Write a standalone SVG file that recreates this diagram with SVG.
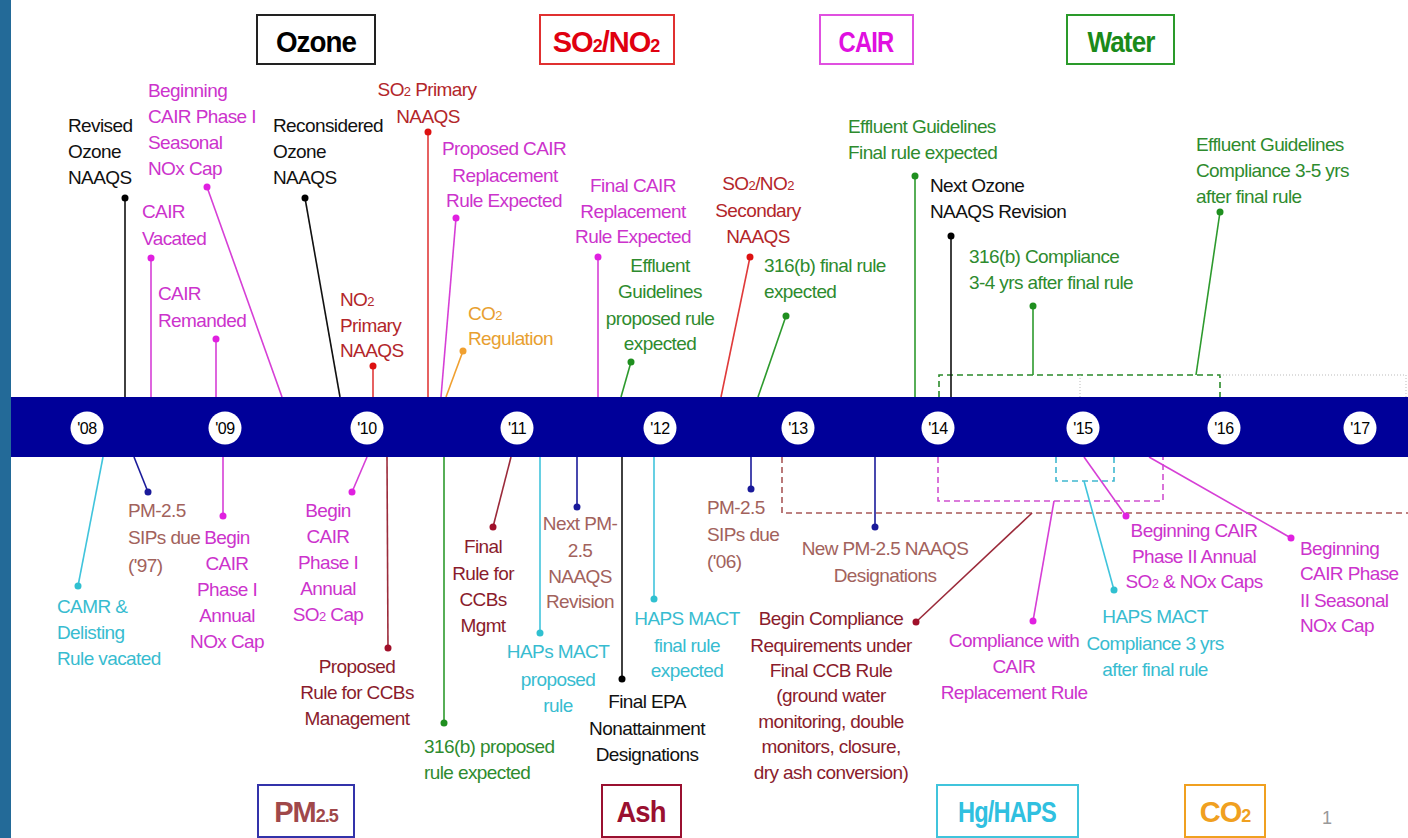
<svg xmlns="http://www.w3.org/2000/svg" width="1408" height="838" viewBox="0 0 1408 838">
<style>
text{font-family:"Liberation Sans",Arial,sans-serif}
.t{font-size:19px;letter-spacing:-0.6px}
.m{text-anchor:middle}
.s{font-size:13px}
.blk{fill:#111}.mag{fill:#cc33cc}.red{fill:#b3262a}.grn{fill:#2e8b2e}.org{fill:#e8a030}.cyn{fill:#38bcd0}.pm{fill:#a2625c}.ash{fill:#8a1c2c}
.yr{font-size:16px;letter-spacing:-0.5px;text-anchor:middle;fill:#000}
.ttl{font-size:29px;font-weight:bold;text-anchor:middle;letter-spacing:-1px}
.ttl .s{font-size:18px}
.box{fill:#fff;stroke-width:2}
line{stroke-width:1.6}
.cb{stroke:#111}.cm{stroke:#d63fd6}.cr{stroke:#e03a3a}.cg{stroke:#2d9a2d}.co{stroke:#f0a030}.cc{stroke:#40c4dc}.cn{stroke:#1a1a9a}.ca{stroke:#9b2a3a}
.db{fill:#000}.dm{fill:#e020e0}.dr{fill:#dd1111}.dg{fill:#1f8f1f}.do{fill:#f0a030}.dc{fill:#30c0d0}.dn{fill:#1a1a9a}.da{fill:#a0102a}
.dash{fill:none;stroke-width:1.6;stroke-dasharray:6 4}
.dot{fill:none;stroke:#bbb;stroke-width:1;stroke-dasharray:1 2}
</style>
<rect x="0" y="0" width="1408" height="838" fill="#fff"/>
<rect x="0" y="0" width="11" height="838" fill="#236a98"/>

<g id="legend">
<g id="box-ozone"><rect class="box" x="257" y="15" width="118" height="49" stroke="#222"/><text class="ttl" x="316" y="52" fill="#000" textLength="80" lengthAdjust="spacingAndGlyphs">Ozone</text></g>
<g id="box-so2no2"><rect class="box" x="540" y="15" width="134" height="49" stroke="#e03030"/><text class="ttl" x="606" y="52" fill="#e00010">SO<tspan class="s">2</tspan>/NO<tspan class="s">2</tspan></text></g>
<g id="box-cair"><rect class="box" x="820" y="15" width="93" height="49" stroke="#e050e0"/><text class="ttl" x="866" y="52" fill="#e010e0" textLength="55" lengthAdjust="spacingAndGlyphs">CAIR</text></g>
<g id="box-water"><rect class="box" x="1067" y="15" width="107" height="49" stroke="#2a9a2a"/><text class="ttl" x="1121" y="52" fill="#1a8a1a" textLength="67" lengthAdjust="spacingAndGlyphs">Water</text></g>
<g id="box-pm25"><rect class="box" x="258" y="785" width="96" height="52" stroke="#3333aa"/><text class="ttl" x="306" y="822" fill="#a0484a">PM<tspan class="s">2.5</tspan></text></g>
<g id="box-ash"><rect class="box" x="602" y="785" width="79" height="52" stroke="#9a1030"/><text class="ttl" x="641" y="822" fill="#9a1030" textLength="49" lengthAdjust="spacingAndGlyphs">Ash</text></g>
<g id="box-hg"><rect class="box" x="937" y="785" width="141" height="52" stroke="#40c4dc"/><text class="ttl" x="1007" y="822" fill="#30c0e0" textLength="98" lengthAdjust="spacingAndGlyphs">Hg/HAPS</text></g>
<g id="box-co2"><rect class="box" x="1185" y="785" width="80" height="52" stroke="#f0a020"/><text class="ttl" x="1225" y="822" fill="#f0a020">CO<tspan class="s">2</tspan></text></g>
<text x="1327" y="824" font-size="18" fill="#999" text-anchor="middle">1</text>
</g>

<g id="brackets">
<path class="dash" stroke="#2a8a2a" d="M939,397V375H1220V397"/>
<path class="dot" d="M1220,375H1406V397M1080,375V397"/>
<path class="dash" stroke="#a85858" d="M782,457V513H1408"/>
<path class="dash" stroke="#d050d0" d="M938,457V501H1163V457"/>
<path class="dash" stroke="#40b8d0" d="M1056,457V481H1114V457"/>
</g>

<g id="connectors">
<line class="cb" x1="125" y1="198" x2="125" y2="397"/><circle class="db" cx="125" cy="198" r="3.5"/>
<line class="cm" x1="207" y1="187" x2="282" y2="397"/><circle class="dm" cx="207" cy="187" r="3.5"/>
<line class="cm" x1="151" y1="258" x2="151" y2="397"/><circle class="dm" cx="151" cy="258" r="3.5"/>
<line class="cm" x1="216" y1="339" x2="216" y2="397"/><circle class="dm" cx="216" cy="339" r="3.5"/>
<line class="cb" x1="305" y1="198" x2="340" y2="397"/><circle class="db" cx="305" cy="198" r="3.5"/>
<line class="cr" x1="373" y1="366" x2="373" y2="397"/><circle class="dr" cx="373" cy="366" r="3.5"/>
<line class="cr" x1="428" y1="132" x2="428" y2="397"/><circle class="dr" cx="428" cy="132" r="3.5"/>
<line class="cm" x1="456" y1="218" x2="441" y2="397"/><circle class="dm" cx="456" cy="218" r="3.5"/>
<line class="co" x1="463" y1="351" x2="446" y2="397"/><circle class="do" cx="463" cy="351" r="3.5"/>
<line class="cm" x1="598" y1="257" x2="598" y2="397"/><circle class="dm" cx="598" cy="257" r="3.5"/>
<line class="cg" x1="631" y1="362" x2="621" y2="397"/><circle class="dg" cx="631" cy="362" r="3.5"/>
<line class="cr" x1="750" y1="257" x2="721" y2="397"/><circle class="dr" cx="750" cy="257" r="3.5"/>
<line class="cg" x1="786" y1="316" x2="758" y2="397"/><circle class="dg" cx="786" cy="316" r="3.5"/>
<line class="cg" x1="915" y1="176" x2="915" y2="397"/><circle class="dg" cx="915" cy="176" r="3.5"/>
<line class="cb" x1="951" y1="236" x2="951" y2="397"/><circle class="db" cx="951" cy="236" r="3.5"/>
<line class="cg" x1="1033" y1="306" x2="1033" y2="375"/><circle class="dg" cx="1033" cy="306" r="3.5"/>
<line class="cg" x1="1220" y1="212" x2="1196" y2="375"/><circle class="dg" cx="1220" cy="212" r="3.5"/>
<line class="cc" x1="78" y1="586" x2="103" y2="457"/><circle class="dc" cx="78" cy="586" r="3.5"/>
<line class="cn" x1="148" y1="492" x2="134" y2="457"/><circle class="dn" cx="148" cy="492" r="3.5"/>
<line class="cm" x1="223" y1="516" x2="223" y2="457"/><circle class="dm" cx="223" cy="516" r="3.5"/>
<line class="cm" x1="352" y1="492" x2="367" y2="457"/><circle class="dm" cx="352" cy="492" r="3.5"/>
<line class="ca" x1="388" y1="648" x2="387" y2="457"/><circle class="da" cx="388" cy="648" r="3.5"/>
<line class="cg" x1="444" y1="723" x2="444" y2="457"/><circle class="dg" cx="444" cy="723" r="3.5"/>
<line class="ca" x1="493" y1="527" x2="511" y2="457"/><circle class="da" cx="493" cy="527" r="3.5"/>
<line class="cc" x1="540" y1="633" x2="540" y2="457"/><circle class="dc" cx="540" cy="633" r="3.5"/>
<line class="cn" x1="577" y1="507" x2="577" y2="457"/><circle class="dn" cx="577" cy="507" r="3.5"/>
<line class="cb" x1="622" y1="679" x2="622" y2="457"/><circle class="db" cx="622" cy="679" r="3.5"/>
<line class="cc" x1="654" y1="599" x2="654" y2="457"/><circle class="dc" cx="654" cy="599" r="3.5"/>
<line class="cn" x1="751" y1="489" x2="751" y2="457"/><circle class="dn" cx="751" cy="489" r="3.5"/>
<line class="cn" x1="875" y1="527" x2="875" y2="457"/><circle class="dn" cx="875" cy="527" r="3.5"/>
<line class="ca" x1="916" y1="622" x2="1032" y2="513"/><circle class="da" cx="916" cy="622" r="3.5"/>
<line class="cm" x1="1033" y1="621" x2="1054" y2="501"/><circle class="dm" cx="1033" cy="621" r="3.5"/>
<line class="cc" x1="1114" y1="590" x2="1084" y2="481"/><circle class="dc" cx="1114" cy="590" r="3.5"/>
<line class="cm" x1="1126" y1="516" x2="1084" y2="457"/><circle class="dm" cx="1126" cy="516" r="3.5"/>
<line class="cm" x1="1291" y1="538" x2="1149" y2="457"/><circle class="dm" cx="1291" cy="538" r="3.5"/>
</g>

<g id="timeline">
<rect x="11" y="397" width="1397" height="60" fill="#000099"/>
<g fill="#fff">
<circle cx="87" cy="428" r="16.5"/><circle cx="225" cy="428" r="16.5"/><circle cx="367" cy="428" r="16.5"/><circle cx="517" cy="428" r="16.5"/><circle cx="660" cy="428" r="16.5"/><circle cx="798" cy="428" r="16.5"/><circle cx="938" cy="428" r="16.5"/><circle cx="1083" cy="428" r="16.5"/><circle cx="1224" cy="428" r="16.5"/><circle cx="1360" cy="428" r="16.5"/>
</g>
<text class="yr" x="87" y="434">'08</text><text class="yr" x="225" y="434">'09</text><text class="yr" x="367" y="434">'10</text><text class="yr" x="517" y="434">'11</text><text class="yr" x="660" y="434">'12</text><text class="yr" x="798" y="434">'13</text><text class="yr" x="938" y="434">'14</text><text class="yr" x="1083" y="434">'15</text><text class="yr" x="1224" y="434">'16</text><text class="yr" x="1360" y="434">'17</text>
</g>

<g id="n1"><text class="t blk"><tspan x="68" y="132">Revised</tspan><tspan x="68" y="158">Ozone</tspan><tspan x="68" y="184">NAAQS</tspan></text></g>
<g id="n2"><text class="t mag"><tspan x="148" y="97">Beginning</tspan><tspan x="148" y="123">CAIR Phase I</tspan><tspan x="148" y="149">Seasonal</tspan><tspan x="148" y="175">NOx Cap</tspan></text></g>
<g id="n3"><text class="t mag"><tspan x="142" y="218">CAIR</tspan><tspan x="142" y="245">Vacated</tspan></text></g>
<g id="n4"><text class="t mag"><tspan x="158" y="300">CAIR</tspan><tspan x="158" y="327">Remanded</tspan></text></g>
<g id="n5"><text class="t blk"><tspan x="273" y="132">Reconsidered</tspan><tspan x="273" y="158">Ozone</tspan><tspan x="273" y="184">NAAQS</tspan></text></g>
<g id="n6"><text class="t red"><tspan x="340" y="306">NO<tspan class="s">2</tspan></tspan><tspan x="340" y="332">Primary</tspan><tspan x="340" y="357">NAAQS</tspan></text></g>
<g id="n7"><text class="t red m"><tspan x="427" y="96">SO<tspan class="s">2</tspan> Primary</tspan><tspan x="428" y="123">NAAQS</tspan></text></g>
<g id="n8"><text class="t mag m"><tspan x="504" y="155">Proposed CAIR</tspan><tspan x="505" y="182">Replacement</tspan><tspan x="504" y="207">Rule Expected</tspan></text></g>
<g id="n9"><text class="t org"><tspan x="468" y="320">CO<tspan class="s">2</tspan></tspan><tspan x="468" y="345">Regulation</tspan></text></g>
<g id="n10"><text class="t mag m"><tspan x="633" y="192">Final CAIR</tspan><tspan x="633" y="218">Replacement</tspan><tspan x="633" y="243">Rule Expected</tspan></text></g>
<g id="n11"><text class="t grn m"><tspan x="660" y="272">Effluent</tspan><tspan x="660" y="298">Guidelines</tspan><tspan x="660" y="325">proposed rule</tspan><tspan x="660" y="350">expected</tspan></text></g>
<g id="n12"><text class="t red m"><tspan x="758" y="190">SO<tspan class="s">2</tspan>/NO<tspan class="s">2</tspan></tspan><tspan x="758" y="217">Secondary</tspan><tspan x="758" y="243">NAAQS</tspan></text></g>
<g id="n13"><text class="t grn"><tspan x="764" y="272">316(b) final rule</tspan><tspan x="764" y="298">expected</tspan></text></g>
<g id="n14"><text class="t grn"><tspan x="848" y="133">Effluent Guidelines</tspan><tspan x="848" y="159">Final rule expected</tspan></text></g>
<g id="n15"><text class="t blk"><tspan x="930" y="192">Next Ozone</tspan><tspan x="930" y="218">NAAQS Revision</tspan></text></g>
<g id="n16"><text class="t grn"><tspan x="969" y="263">316(b) Compliance</tspan><tspan x="969" y="289">3-4 yrs after final rule</tspan></text></g>
<g id="n17"><text class="t grn"><tspan x="1196" y="151">Effluent Guidelines</tspan><tspan x="1196" y="177">Compliance 3-5 yrs</tspan><tspan x="1196" y="203">after final rule</tspan></text></g>
<g id="n18"><text class="t cyn"><tspan x="57" y="613">CAMR &amp;</tspan><tspan x="57" y="639">Delisting</tspan><tspan x="57" y="665">Rule vacated</tspan></text></g>
<g id="n19"><text class="t pm"><tspan x="128" y="517">PM-2.5</tspan><tspan x="128" y="544">SIPs due</tspan><tspan x="128" y="572">('97)</tspan></text></g>
<g id="n20"><text class="t mag m"><tspan x="227" y="544">Begin</tspan><tspan x="227" y="570">CAIR</tspan><tspan x="227" y="596">Phase I</tspan><tspan x="227" y="622">Annual</tspan><tspan x="227" y="648">NOx Cap</tspan></text></g>
<g id="n21"><text class="t mag m"><tspan x="328" y="517">Begin</tspan><tspan x="328" y="543">CAIR</tspan><tspan x="328" y="569">Phase I</tspan><tspan x="328" y="595">Annual</tspan><tspan x="328" y="621">SO<tspan class="s">2</tspan> Cap</tspan></text></g>
<g id="n22"><text class="t ash m"><tspan x="357" y="673">Proposed</tspan><tspan x="357" y="699">Rule for CCBs</tspan><tspan x="357" y="725">Management</tspan></text></g>
<g id="n23"><text class="t grn"><tspan x="424" y="753">316(b) proposed</tspan><tspan x="424" y="779">rule expected</tspan></text></g>
<g id="n24"><text class="t ash m"><tspan x="483" y="553">Final</tspan><tspan x="483" y="580">Rule for</tspan><tspan x="483" y="606">CCBs</tspan><tspan x="483" y="632">Mgmt</tspan></text></g>
<g id="n25"><text class="t cyn m"><tspan x="558" y="658">HAPs MACT</tspan><tspan x="558" y="686">proposed</tspan><tspan x="558" y="712">rule</tspan></text></g>
<g id="n26"><text class="t pm m"><tspan x="580" y="530">Next PM-</tspan><tspan x="580" y="557">2.5</tspan><tspan x="580" y="583">NAAQS</tspan><tspan x="580" y="608">Revision</tspan></text></g>
<g id="n27"><text class="t blk m"><tspan x="647" y="708">Final EPA</tspan><tspan x="647" y="735">Nonattainment</tspan><tspan x="647" y="761">Designations</tspan></text></g>
<g id="n28"><text class="t cyn m"><tspan x="687" y="625">HAPS MACT</tspan><tspan x="687" y="652">final rule</tspan><tspan x="687" y="677">expected</tspan></text></g>
<g id="n29"><text class="t pm"><tspan x="707" y="514">PM-2.5</tspan><tspan x="707" y="541">SIPs due</tspan><tspan x="707" y="568">('06)</tspan></text></g>
<g id="n30"><text class="t pm m"><tspan x="885" y="555">New PM-2.5 NAAQS</tspan><tspan x="885" y="582">Designations</tspan></text></g>
<g id="n31"><text class="t ash m"><tspan x="831" y="625">Begin Compliance</tspan><tspan x="831" y="652">Requirements under</tspan><tspan x="831" y="677">Final CCB Rule</tspan><tspan x="831" y="702">(ground water</tspan><tspan x="831" y="728">monitoring, double</tspan><tspan x="831" y="753">monitors, closure,</tspan><tspan x="831" y="779">dry ash conversion)</tspan></text></g>
<g id="n32"><text class="t mag m"><tspan x="1014" y="647">Compliance with</tspan><tspan x="1014" y="673">CAIR</tspan><tspan x="1014" y="699">Replacement Rule</tspan></text></g>
<g id="n33"><text class="t cyn m"><tspan x="1155" y="623">HAPS MACT</tspan><tspan x="1155" y="650">Compliance 3 yrs</tspan><tspan x="1155" y="676">after final rule</tspan></text></g>
<g id="n34"><text class="t mag m"><tspan x="1194" y="537">Beginning CAIR</tspan><tspan x="1194" y="563">Phase II Annual</tspan><tspan x="1194" y="588">SO<tspan class="s">2</tspan> &amp; NOx Caps</tspan></text></g>
<g id="n35"><text class="t mag"><tspan x="1300" y="555">Beginning</tspan><tspan x="1300" y="580">CAIR Phase</tspan><tspan x="1300" y="607">II Seasonal</tspan><tspan x="1300" y="632">NOx Cap</tspan></text></g>
</svg>
